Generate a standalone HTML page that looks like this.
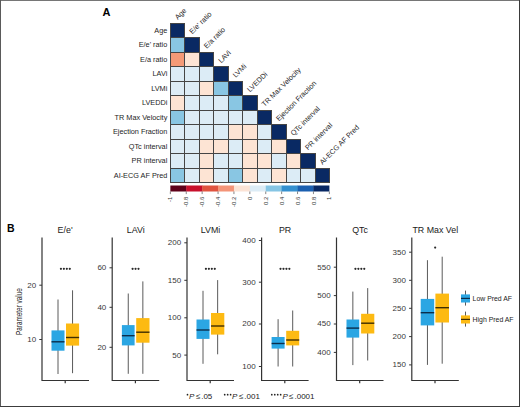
<!DOCTYPE html>
<html><head><meta charset="utf-8"><style>html,body{margin:0;padding:0;background:#fff;width:520px;height:407px;overflow:hidden}</style></head>
<body><svg width="520" height="407" viewBox="0 0 520 407" style="display:block;font-family:'Liberation Sans', sans-serif"><rect x="0" y="0" width="520" height="407" fill="#fff"/><rect x="170.40" y="23.10" width="14.46" height="14.50" fill="#092963"/><rect x="170.40" y="37.60" width="14.46" height="14.50" fill="#89c6e3"/><rect x="184.86" y="37.60" width="14.46" height="14.50" fill="#092963"/><rect x="170.40" y="52.10" width="14.46" height="14.50" fill="#f49a77"/><rect x="184.86" y="52.10" width="14.46" height="14.50" fill="#fde4d4"/><rect x="199.32" y="52.10" width="14.46" height="14.50" fill="#092963"/><rect x="170.40" y="66.60" width="14.46" height="14.50" fill="#dcecf6"/><rect x="184.86" y="66.60" width="14.46" height="14.50" fill="#dcecf6"/><rect x="199.32" y="66.60" width="14.46" height="14.50" fill="#dcecf6"/><rect x="213.78" y="66.60" width="14.46" height="14.50" fill="#092963"/><rect x="170.40" y="81.10" width="14.46" height="14.50" fill="#dcecf6"/><rect x="184.86" y="81.10" width="14.46" height="14.50" fill="#dcecf6"/><rect x="199.32" y="81.10" width="14.46" height="14.50" fill="#fde4d4"/><rect x="213.78" y="81.10" width="14.46" height="14.50" fill="#89c6e3"/><rect x="228.24" y="81.10" width="14.46" height="14.50" fill="#092963"/><rect x="170.40" y="95.60" width="14.46" height="14.50" fill="#fde4d4"/><rect x="184.86" y="95.60" width="14.46" height="14.50" fill="#dcecf6"/><rect x="199.32" y="95.60" width="14.46" height="14.50" fill="#dcecf6"/><rect x="213.78" y="95.60" width="14.46" height="14.50" fill="#dcecf6"/><rect x="228.24" y="95.60" width="14.46" height="14.50" fill="#89c6e3"/><rect x="242.70" y="95.60" width="14.46" height="14.50" fill="#092963"/><rect x="170.40" y="110.10" width="14.46" height="14.50" fill="#89c6e3"/><rect x="184.86" y="110.10" width="14.46" height="14.50" fill="#dcecf6"/><rect x="199.32" y="110.10" width="14.46" height="14.50" fill="#dcecf6"/><rect x="213.78" y="110.10" width="14.46" height="14.50" fill="#dcecf6"/><rect x="228.24" y="110.10" width="14.46" height="14.50" fill="#dcecf6"/><rect x="242.70" y="110.10" width="14.46" height="14.50" fill="#dcecf6"/><rect x="257.16" y="110.10" width="14.46" height="14.50" fill="#092963"/><rect x="170.40" y="124.60" width="14.46" height="14.50" fill="#dcecf6"/><rect x="184.86" y="124.60" width="14.46" height="14.50" fill="#dcecf6"/><rect x="199.32" y="124.60" width="14.46" height="14.50" fill="#dcecf6"/><rect x="213.78" y="124.60" width="14.46" height="14.50" fill="#dcecf6"/><rect x="228.24" y="124.60" width="14.46" height="14.50" fill="#fde4d4"/><rect x="242.70" y="124.60" width="14.46" height="14.50" fill="#fde4d4"/><rect x="257.16" y="124.60" width="14.46" height="14.50" fill="#dcecf6"/><rect x="271.62" y="124.60" width="14.46" height="14.50" fill="#092963"/><rect x="170.40" y="139.10" width="14.46" height="14.50" fill="#dcecf6"/><rect x="184.86" y="139.10" width="14.46" height="14.50" fill="#dcecf6"/><rect x="199.32" y="139.10" width="14.46" height="14.50" fill="#fde4d4"/><rect x="213.78" y="139.10" width="14.46" height="14.50" fill="#fde4d4"/><rect x="228.24" y="139.10" width="14.46" height="14.50" fill="#dcecf6"/><rect x="242.70" y="139.10" width="14.46" height="14.50" fill="#fde4d4"/><rect x="257.16" y="139.10" width="14.46" height="14.50" fill="#dcecf6"/><rect x="271.62" y="139.10" width="14.46" height="14.50" fill="#fde4d4"/><rect x="286.08" y="139.10" width="14.46" height="14.50" fill="#092963"/><rect x="170.40" y="153.60" width="14.46" height="14.50" fill="#dcecf6"/><rect x="184.86" y="153.60" width="14.46" height="14.50" fill="#dcecf6"/><rect x="199.32" y="153.60" width="14.46" height="14.50" fill="#fde4d4"/><rect x="213.78" y="153.60" width="14.46" height="14.50" fill="#dcecf6"/><rect x="228.24" y="153.60" width="14.46" height="14.50" fill="#dcecf6"/><rect x="242.70" y="153.60" width="14.46" height="14.50" fill="#fde4d4"/><rect x="257.16" y="153.60" width="14.46" height="14.50" fill="#fde4d4"/><rect x="271.62" y="153.60" width="14.46" height="14.50" fill="#dcecf6"/><rect x="286.08" y="153.60" width="14.46" height="14.50" fill="#fde4d4"/><rect x="300.54" y="153.60" width="14.46" height="14.50" fill="#092963"/><rect x="170.40" y="168.10" width="14.46" height="14.50" fill="#89c6e3"/><rect x="184.86" y="168.10" width="14.46" height="14.50" fill="#dcecf6"/><rect x="199.32" y="168.10" width="14.46" height="14.50" fill="#fde4d4"/><rect x="213.78" y="168.10" width="14.46" height="14.50" fill="#dcecf6"/><rect x="228.24" y="168.10" width="14.46" height="14.50" fill="#89c6e3"/><rect x="242.70" y="168.10" width="14.46" height="14.50" fill="#fde4d4"/><rect x="257.16" y="168.10" width="14.46" height="14.50" fill="#dcecf6"/><rect x="271.62" y="168.10" width="14.46" height="14.50" fill="#fde4d4"/><rect x="286.08" y="168.10" width="14.46" height="14.50" fill="#dcecf6"/><rect x="300.54" y="168.10" width="14.46" height="14.50" fill="#dcecf6"/><rect x="315.00" y="168.10" width="14.46" height="14.50" fill="#092963"/><path d="M170.00 23.50H185.00 M170.00 37.50H200.00 M170.00 52.50H214.00 M170.00 66.50H229.00 M170.00 81.50H243.00 M170.00 95.50H258.00 M170.00 110.50H272.00 M170.00 124.50H287.00 M170.00 139.50H301.00 M170.00 153.50H316.00 M170.00 168.50H330.00 M170.00 182.50H330.00 M170.50 23.00V183.00 M184.50 23.00V183.00 M199.50 37.00V183.00 M213.50 52.00V183.00 M228.50 66.00V183.00 M242.50 81.00V183.00 M257.50 95.00V183.00 M271.50 110.00V183.00 M286.50 124.00V183.00 M300.50 139.00V183.00 M315.50 153.00V183.00 M329.50 168.00V183.00" stroke="#454545" stroke-width="1.0" fill="none"/><text x="167.3" y="32.50" font-size="7.3" fill="#1e1e1e" text-anchor="end">Age</text><text x="167.3" y="47.00" font-size="7.3" fill="#1e1e1e" text-anchor="end">E/e' ratio</text><text x="167.3" y="61.50" font-size="7.3" fill="#1e1e1e" text-anchor="end">E/a ratio</text><text x="167.3" y="76.00" font-size="7.3" fill="#1e1e1e" text-anchor="end">LAVi</text><text x="167.3" y="90.50" font-size="7.3" fill="#1e1e1e" text-anchor="end">LVMi</text><text x="167.3" y="105.00" font-size="7.3" fill="#1e1e1e" text-anchor="end">LVEDDi</text><text x="167.3" y="119.50" font-size="7.3" fill="#1e1e1e" text-anchor="end">TR Max Velocity</text><text x="167.3" y="134.00" font-size="7.3" fill="#1e1e1e" text-anchor="end">Ejection Fraction</text><text x="167.3" y="148.50" font-size="7.3" fill="#1e1e1e" text-anchor="end">QTc interval</text><text x="167.3" y="163.00" font-size="7.3" fill="#1e1e1e" text-anchor="end">PR interval</text><text x="167.3" y="177.50" font-size="7.3" fill="#1e1e1e" text-anchor="end">AI-ECG AF Pred</text><text x="177.83" y="20.10" font-size="7.2" fill="#1e1e1e" transform="rotate(-45 177.83 20.10)">Age</text><text x="192.29" y="34.60" font-size="7.2" fill="#1e1e1e" transform="rotate(-45 192.29 34.60)">E/e' ratio</text><text x="206.75" y="49.10" font-size="7.2" fill="#1e1e1e" transform="rotate(-45 206.75 49.10)">E/a ratio</text><text x="221.21" y="63.60" font-size="7.2" fill="#1e1e1e" transform="rotate(-45 221.21 63.60)">LAVi</text><text x="235.67" y="78.10" font-size="7.2" fill="#1e1e1e" transform="rotate(-45 235.67 78.10)">LVMi</text><text x="250.13" y="92.60" font-size="7.2" fill="#1e1e1e" transform="rotate(-45 250.13 92.60)">LVEDDi</text><text x="264.59" y="107.10" font-size="7.2" fill="#1e1e1e" transform="rotate(-45 264.59 107.10)">TR Max Velocity</text><text x="279.05" y="121.60" font-size="7.2" fill="#1e1e1e" transform="rotate(-45 279.05 121.60)">Ejection Fraction</text><text x="293.51" y="136.10" font-size="7.2" fill="#1e1e1e" transform="rotate(-45 293.51 136.10)">QTc interval</text><text x="307.97" y="150.60" font-size="7.2" fill="#1e1e1e" transform="rotate(-45 307.97 150.60)">PR interval</text><text x="322.43" y="165.10" font-size="7.2" fill="#1e1e1e" transform="rotate(-45 322.43 165.10)">AI-ECG AF Pred</text><rect x="170.35" y="185.5" width="16.23" height="6.00" fill="#5e0019"/><rect x="186.25" y="185.5" width="16.23" height="6.00" fill="#c8102c"/><rect x="202.15" y="185.5" width="16.23" height="6.00" fill="#e0533f"/><rect x="218.05" y="185.5" width="16.23" height="6.00" fill="#f49478"/><rect x="233.95" y="185.5" width="16.23" height="6.00" fill="#fce3d5"/><rect x="249.85" y="185.5" width="16.23" height="6.00" fill="#dcecf6"/><rect x="265.75" y="185.5" width="16.23" height="6.00" fill="#86c5e4"/><rect x="281.65" y="185.5" width="16.23" height="6.00" fill="#3590cf"/><rect x="297.55" y="185.5" width="16.23" height="6.00" fill="#1a5fb0"/><rect x="313.45" y="185.5" width="15.93" height="6.00" fill="#082863"/><text x="0" y="0" font-size="6" fill="#333" text-anchor="end" transform="translate(172.45 196.7) rotate(-90)">-1</text><text x="0" y="0" font-size="6" fill="#333" text-anchor="end" transform="translate(188.35 196.7) rotate(-90)">-0.8</text><text x="0" y="0" font-size="6" fill="#333" text-anchor="end" transform="translate(204.25 196.7) rotate(-90)">-0.6</text><text x="0" y="0" font-size="6" fill="#333" text-anchor="end" transform="translate(220.15 196.7) rotate(-90)">-0.4</text><text x="0" y="0" font-size="6" fill="#333" text-anchor="end" transform="translate(236.05 196.7) rotate(-90)">-0.2</text><text x="0" y="0" font-size="6" fill="#333" text-anchor="end" transform="translate(251.95 196.7) rotate(-90)">0</text><text x="0" y="0" font-size="6" fill="#333" text-anchor="end" transform="translate(267.85 196.7) rotate(-90)">0.2</text><text x="0" y="0" font-size="6" fill="#333" text-anchor="end" transform="translate(283.75 196.7) rotate(-90)">0.4</text><text x="0" y="0" font-size="6" fill="#333" text-anchor="end" transform="translate(299.65 196.7) rotate(-90)">0.6</text><text x="0" y="0" font-size="6" fill="#333" text-anchor="end" transform="translate(315.55 196.7) rotate(-90)">0.8</text><text x="0" y="0" font-size="6" fill="#333" text-anchor="end" transform="translate(331.45 196.7) rotate(-90)">1</text><path d="M170.35 191.5V194.10 M186.25 191.5V194.10 M202.15 191.5V194.10 M218.05 191.5V194.10 M233.95 191.5V194.10 M249.85 191.5V194.10 M265.75 191.5V194.10 M281.65 191.5V194.10 M297.55 191.5V194.10 M313.45 191.5V194.10 M329.35 191.5V194.10" stroke="#666" stroke-width="0.8"/><text x="102.6" y="15.85" font-size="11" font-weight="bold" fill="#000">A</text><text x="7.0" y="232" font-size="10.5" font-weight="bold" fill="#000">B</text><path d="M42.0 237.5V380.5H89.0M65.2 380.5V383.2" stroke="#333" stroke-width="1.2" fill="none"/><path d="M39.3 339.5H42.0" stroke="#333" stroke-width="1.0"/><text x="36.1" y="341.90" font-size="8" fill="#383838" text-anchor="end">10</text><path d="M39.3 285.2H42.0" stroke="#333" stroke-width="1.0"/><text x="36.1" y="287.60" font-size="8" fill="#383838" text-anchor="end">20</text><text x="65.1" y="232.6" font-size="8.85" fill="#1a1a1a" text-anchor="middle">E/e'</text><path d="M58.00 299.5V374.0" stroke="#5a5a5a" stroke-width="1"/><rect x="51.5" y="330.4" width="13.00" height="20.30" fill="#2ba6e3"/><path d="M51.5 341.8H64.5" stroke="#0b2e4c" stroke-width="1.4"/><path d="M72.55 290.3V373.2" stroke="#5a5a5a" stroke-width="1"/><rect x="66.0" y="323.5" width="13.10" height="22.10" fill="#fdba12"/><path d="M66.0 337.5H79.1" stroke="#3f2d00" stroke-width="1.4"/><circle cx="60.93" cy="268.8" r="1.1" fill="#2a2a2a"/><circle cx="63.88" cy="268.8" r="1.1" fill="#2a2a2a"/><circle cx="66.83" cy="268.8" r="1.1" fill="#2a2a2a"/><circle cx="69.78" cy="268.8" r="1.1" fill="#2a2a2a"/><path d="M112.2 237.5V380.5H159.2M135.4 380.5V383.2" stroke="#333" stroke-width="1.2" fill="none"/><path d="M109.5 347.3H112.2" stroke="#333" stroke-width="1.0"/><text x="106.3" y="349.70" font-size="8" fill="#383838" text-anchor="end">20</text><path d="M109.5 307.3H112.2" stroke="#333" stroke-width="1.0"/><text x="106.3" y="309.70" font-size="8" fill="#383838" text-anchor="end">40</text><path d="M109.5 267.8H112.2" stroke="#333" stroke-width="1.0"/><text x="106.3" y="270.20" font-size="8" fill="#383838" text-anchor="end">60</text><text x="135.7" y="232.6" font-size="8.85" fill="#1a1a1a" text-anchor="middle">LAVi</text><path d="M128.25 293.5V373.8" stroke="#5a5a5a" stroke-width="1"/><rect x="121.9" y="325.1" width="12.70" height="20.30" fill="#2ba6e3"/><path d="M121.9 335.7H134.6" stroke="#0b2e4c" stroke-width="1.4"/><path d="M142.85 281.4V373.8" stroke="#5a5a5a" stroke-width="1"/><rect x="136.2" y="318.1" width="13.30" height="24.60" fill="#fdba12"/><path d="M136.2 332.2H149.5" stroke="#3f2d00" stroke-width="1.4"/><circle cx="132.60" cy="268.8" r="1.1" fill="#2a2a2a"/><circle cx="135.55" cy="268.8" r="1.1" fill="#2a2a2a"/><circle cx="138.50" cy="268.8" r="1.1" fill="#2a2a2a"/><path d="M187.0 237.5V380.5H234.0M210.2 380.5V383.2" stroke="#333" stroke-width="1.2" fill="none"/><path d="M184.3 355.1H187.0" stroke="#333" stroke-width="1.0"/><text x="181.1" y="357.50" font-size="8" fill="#383838" text-anchor="end">50</text><path d="M184.3 317.8H187.0" stroke="#333" stroke-width="1.0"/><text x="181.1" y="320.20" font-size="8" fill="#383838" text-anchor="end">100</text><path d="M184.3 280.3H187.0" stroke="#333" stroke-width="1.0"/><text x="181.1" y="282.70" font-size="8" fill="#383838" text-anchor="end">150</text><path d="M184.3 242.8H187.0" stroke="#333" stroke-width="1.0"/><text x="181.1" y="245.20" font-size="8" fill="#383838" text-anchor="end">200</text><text x="210.5" y="232.6" font-size="8.85" fill="#1a1a1a" text-anchor="middle">LVMi</text><path d="M203.00 290.8V363.8" stroke="#5a5a5a" stroke-width="1"/><rect x="196.5" y="319.5" width="13.00" height="19.40" fill="#2ba6e3"/><path d="M196.5 330.0H209.5" stroke="#0b2e4c" stroke-width="1.4"/><path d="M217.65 280.1V354.3" stroke="#5a5a5a" stroke-width="1"/><rect x="211.0" y="313.0" width="13.30" height="21.60" fill="#fdba12"/><path d="M211.0 326.0H224.3" stroke="#3f2d00" stroke-width="1.4"/><circle cx="205.92" cy="268.8" r="1.1" fill="#2a2a2a"/><circle cx="208.88" cy="268.8" r="1.1" fill="#2a2a2a"/><circle cx="211.82" cy="268.8" r="1.1" fill="#2a2a2a"/><circle cx="214.78" cy="268.8" r="1.1" fill="#2a2a2a"/><path d="M261.6 237.5V380.5H308.6M284.8 380.5V383.2" stroke="#333" stroke-width="1.2" fill="none"/><path d="M258.9 366.5H261.6" stroke="#333" stroke-width="1.0"/><text x="255.7" y="368.90" font-size="8" fill="#383838" text-anchor="end">100</text><path d="M258.9 324.0H261.6" stroke="#333" stroke-width="1.0"/><text x="255.7" y="326.40" font-size="8" fill="#383838" text-anchor="end">200</text><path d="M258.9 282.2H261.6" stroke="#333" stroke-width="1.0"/><text x="255.7" y="284.60" font-size="8" fill="#383838" text-anchor="end">300</text><path d="M258.9 240.5H261.6" stroke="#333" stroke-width="1.0"/><text x="255.7" y="242.90" font-size="8" fill="#383838" text-anchor="end">400</text><text x="285.1" y="232.6" font-size="8.85" fill="#1a1a1a" text-anchor="middle">PR</text><path d="M278.10 319.2V366.5" stroke="#5a5a5a" stroke-width="1"/><rect x="271.6" y="337.0" width="13.00" height="11.60" fill="#2ba6e3"/><path d="M271.6 343.5H284.6" stroke="#0b2e4c" stroke-width="1.4"/><path d="M292.70 310.5V366.5" stroke="#5a5a5a" stroke-width="1"/><rect x="286.2" y="330.8" width="13.00" height="14.60" fill="#fdba12"/><path d="M286.2 340.0H299.2" stroke="#3f2d00" stroke-width="1.4"/><circle cx="280.52" cy="268.8" r="1.1" fill="#2a2a2a"/><circle cx="283.47" cy="268.8" r="1.1" fill="#2a2a2a"/><circle cx="286.43" cy="268.8" r="1.1" fill="#2a2a2a"/><circle cx="289.38" cy="268.8" r="1.1" fill="#2a2a2a"/><path d="M336.5 237.5V380.5H383.5M359.7 380.5V383.2" stroke="#333" stroke-width="1.2" fill="none"/><path d="M333.8 352.4H336.5" stroke="#333" stroke-width="1.0"/><text x="330.6" y="354.80" font-size="8" fill="#383838" text-anchor="end">400</text><path d="M333.8 324.0H336.5" stroke="#333" stroke-width="1.0"/><text x="330.6" y="326.40" font-size="8" fill="#383838" text-anchor="end">450</text><path d="M333.8 295.6H336.5" stroke="#333" stroke-width="1.0"/><text x="330.6" y="298.00" font-size="8" fill="#383838" text-anchor="end">500</text><path d="M333.8 267.2H336.5" stroke="#333" stroke-width="1.0"/><text x="330.6" y="269.60" font-size="8" fill="#383838" text-anchor="end">550</text><text x="360.0" y="232.6" font-size="8.85" fill="#1a1a1a" text-anchor="middle">QTc</text><path d="M352.85 291.6V365.1" stroke="#5a5a5a" stroke-width="1"/><rect x="346.5" y="319.5" width="12.70" height="18.10" fill="#2ba6e3"/><path d="M346.5 328.1H359.2" stroke="#0b2e4c" stroke-width="1.4"/><path d="M367.70 288.1V360.5" stroke="#5a5a5a" stroke-width="1"/><rect x="361.1" y="313.8" width="13.20" height="19.70" fill="#fdba12"/><path d="M361.1 323.2H374.3" stroke="#3f2d00" stroke-width="1.4"/><circle cx="355.42" cy="268.8" r="1.1" fill="#2a2a2a"/><circle cx="358.37" cy="268.8" r="1.1" fill="#2a2a2a"/><circle cx="361.32" cy="268.8" r="1.1" fill="#2a2a2a"/><circle cx="364.27" cy="268.8" r="1.1" fill="#2a2a2a"/><path d="M411.8 237.5V380.5H458.8M435.0 380.5V383.2" stroke="#333" stroke-width="1.2" fill="none"/><path d="M409.1 364.9H411.8" stroke="#333" stroke-width="1.0"/><text x="405.9" y="367.30" font-size="8" fill="#383838" text-anchor="end">150</text><path d="M409.1 336.6H411.8" stroke="#333" stroke-width="1.0"/><text x="405.9" y="339.00" font-size="8" fill="#383838" text-anchor="end">200</text><path d="M409.1 308.3H411.8" stroke="#333" stroke-width="1.0"/><text x="405.9" y="310.70" font-size="8" fill="#383838" text-anchor="end">250</text><path d="M409.1 280.3H411.8" stroke="#333" stroke-width="1.0"/><text x="405.9" y="282.70" font-size="8" fill="#383838" text-anchor="end">300</text><path d="M409.1 252.2H411.8" stroke="#333" stroke-width="1.0"/><text x="405.9" y="254.60" font-size="8" fill="#383838" text-anchor="end">350</text><text x="435.3" y="232.6" font-size="8.85" fill="#1a1a1a" text-anchor="middle">TR Max Vel</text><path d="M427.45 260.2V364.9" stroke="#5a5a5a" stroke-width="1"/><rect x="420.7" y="298.9" width="13.50" height="26.50" fill="#2ba6e3"/><path d="M420.7 312.7H434.2" stroke="#0b2e4c" stroke-width="1.4"/><path d="M442.20 256.7V363.7" stroke="#5a5a5a" stroke-width="1"/><rect x="435.4" y="293.6" width="13.60" height="28.90" fill="#fdba12"/><path d="M435.4 307.7H449.0" stroke="#3f2d00" stroke-width="1.4"/><circle cx="435.15" cy="247.6" r="1.1" fill="#2a2a2a"/><text x="0" y="0" font-size="8.6" fill="#1a1a1a" text-anchor="middle" transform="translate(21.7 311.6) rotate(-90) scale(0.74 1)">Parameter value</text><path d="M465.5 290.6V305.6" stroke="#5a5a5a" stroke-width="1"/><rect x="461" y="294.4" width="9" height="8.1" fill="#2ba6e3"/><path d="M461 298.4H470" stroke="#0b2e4c" stroke-width="1.2"/><text x="472.6" y="300.6" font-size="6.9" fill="#222">Low Pred AF</text><path d="M465.5 311.6V326.6" stroke="#5a5a5a" stroke-width="1"/><rect x="461" y="315.4" width="9" height="8.1" fill="#fdba12"/><path d="M461 319.4H470" stroke="#3f2d00" stroke-width="1.2"/><text x="472.6" y="321.6" font-size="6.9" fill="#222">High Pred AF</text><circle cx="187.50" cy="394.7" r="0.85" fill="#222"/><text x="189.0" y="398.8" font-size="8" fill="#222" font-style="italic">P</text><text x="196.0" y="398.8" font-size="8" fill="#222">≤</text><text x="201.2" y="398.8" font-size="8" fill="#222">.05</text><circle cx="224.70" cy="394.7" r="0.85" fill="#222"/><circle cx="227.66" cy="394.7" r="0.85" fill="#222"/><circle cx="230.62" cy="394.7" r="0.85" fill="#222"/><text x="231.9" y="398.8" font-size="8" fill="#222" font-style="italic">P</text><text x="239.1" y="398.8" font-size="8" fill="#222">≤</text><text x="244.3" y="398.8" font-size="8" fill="#222">.001</text><circle cx="271.80" cy="394.7" r="0.85" fill="#222"/><circle cx="274.76" cy="394.7" r="0.85" fill="#222"/><circle cx="277.72" cy="394.7" r="0.85" fill="#222"/><circle cx="280.68" cy="394.7" r="0.85" fill="#222"/><text x="282.4" y="398.8" font-size="8" fill="#222" font-style="italic">P</text><text x="289.1" y="398.8" font-size="8" fill="#222">≤</text><text x="294.5" y="398.8" font-size="8" fill="#222">.0001</text><path d="M0 0.5H520" stroke="#767676" stroke-width="1"/><path d="M0.5 0V407" stroke="#5a5a5a" stroke-width="1"/><path d="M519.5 0V407" stroke="#3a3a3a" stroke-width="1"/><path d="M0 406.5H520" stroke="#3c3c3c" stroke-width="1"/></svg></body></html>
